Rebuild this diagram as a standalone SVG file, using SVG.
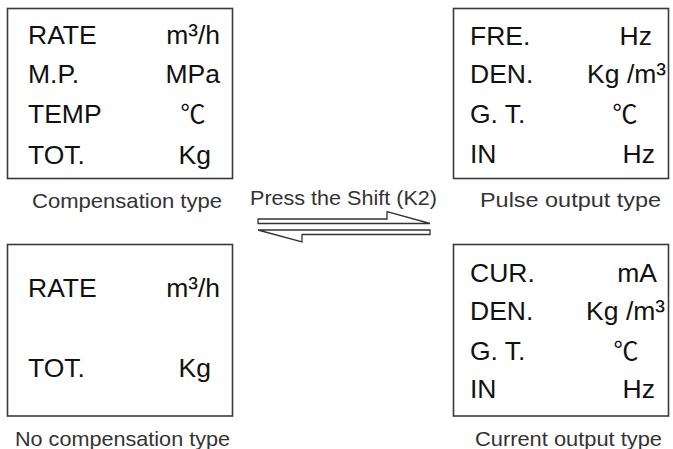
<svg xmlns="http://www.w3.org/2000/svg" width="673" height="449" viewBox="0 0 673 449">
<style>
.box{fill:#fff;stroke:#3a3a3a;stroke-width:1.6}
.t{font-family:"Liberation Sans",Arial,sans-serif;font-size:26.5px;fill:#111}
.u{font-family:"Liberation Sans",Arial,sans-serif;font-size:26.5px;fill:#111;text-anchor:end}
.s{font-size:29px}
.c{font-family:"Noto Sans CJK SC","DejaVu Sans",sans-serif;font-size:25px;fill:#111;text-anchor:middle}
.lbl{font-family:"Liberation Sans",Arial,sans-serif;font-size:21px;fill:#333}
.arr{fill:#fff;stroke:#333;stroke-width:1.3;stroke-linejoin:miter}
</style>
<rect width="673" height="449" fill="#fff"/>
<g id="compensation">
<rect class="box" x="7.5" y="8.5" width="225" height="170"/>
<text class="t" x="28" y="44">RATE</text><text class="u" x="220" y="44">m<tspan class="s">³</tspan>/h</text>
<text class="t" x="28" y="83">M.P.</text><text class="u" x="220" y="83">MPa</text>
<text class="t" x="28" y="123">TEMP</text><text class="c" x="193" y="123">℃</text>
<text class="t" x="28" y="164">TOT.</text><text class="u" x="211" y="164">Kg</text>
<text class="lbl" x="32" y="208" textLength="190" lengthAdjust="spacingAndGlyphs">Compensation type</text>
</g>
<g id="pulse">
<rect class="box" x="453.5" y="8.5" width="215" height="170"/>
<text class="t" x="470" y="45">FRE.</text><text class="u" x="652" y="45">Hz</text>
<text class="t" x="470" y="83">DEN.</text><text class="u" x="666" y="83">Kg /m<tspan class="s">³</tspan></text>
<text class="t" x="470" y="123">G. T.</text><text class="c" x="625" y="123">℃</text>
<text class="t" x="470" y="163">IN</text><text class="u" x="655" y="163">Hz</text>
<text class="lbl" x="480" y="207" textLength="181" lengthAdjust="spacingAndGlyphs">Pulse output type</text>
</g>
<g id="nocompensation">
<rect class="box" x="7.5" y="244.5" width="225" height="171.5"/>
<text class="t" x="28" y="297">RATE</text><text class="u" x="220" y="297">m<tspan class="s">³</tspan>/h</text>
<text class="t" x="28" y="377">TOT.</text><text class="u" x="211" y="377">Kg</text>
<text class="lbl" x="15" y="446" textLength="215" lengthAdjust="spacingAndGlyphs">No compensation type</text>
</g>
<g id="current">
<rect class="box" x="453.5" y="244.5" width="215" height="171.5"/>
<text class="t" x="470" y="282">CUR.</text><text class="u" x="657" y="282">mA</text>
<text class="t" x="470" y="320">DEN.</text><text class="u" x="665" y="320">Kg /m<tspan class="s">³</tspan></text>
<text class="t" x="470" y="360">G. T.</text><text class="c" x="626" y="360">℃</text>
<text class="t" x="470" y="398">IN</text><text class="u" x="655" y="398">Hz</text>
<text class="lbl" x="475" y="446" textLength="187" lengthAdjust="spacingAndGlyphs">Current output type</text>
</g>
<g id="connectors">
<text class="lbl" x="250" y="205" textLength="187" lengthAdjust="spacingAndGlyphs">Press the Shift (K2)</text>
<polygon class="arr" points="258,219 387,219 387,211.5 430,223.5 258,223.5"/>
<polygon class="arr" points="258,230 430,230 430,234.5 302,234.5 302,242 258,230"/>
</g>
</svg>
